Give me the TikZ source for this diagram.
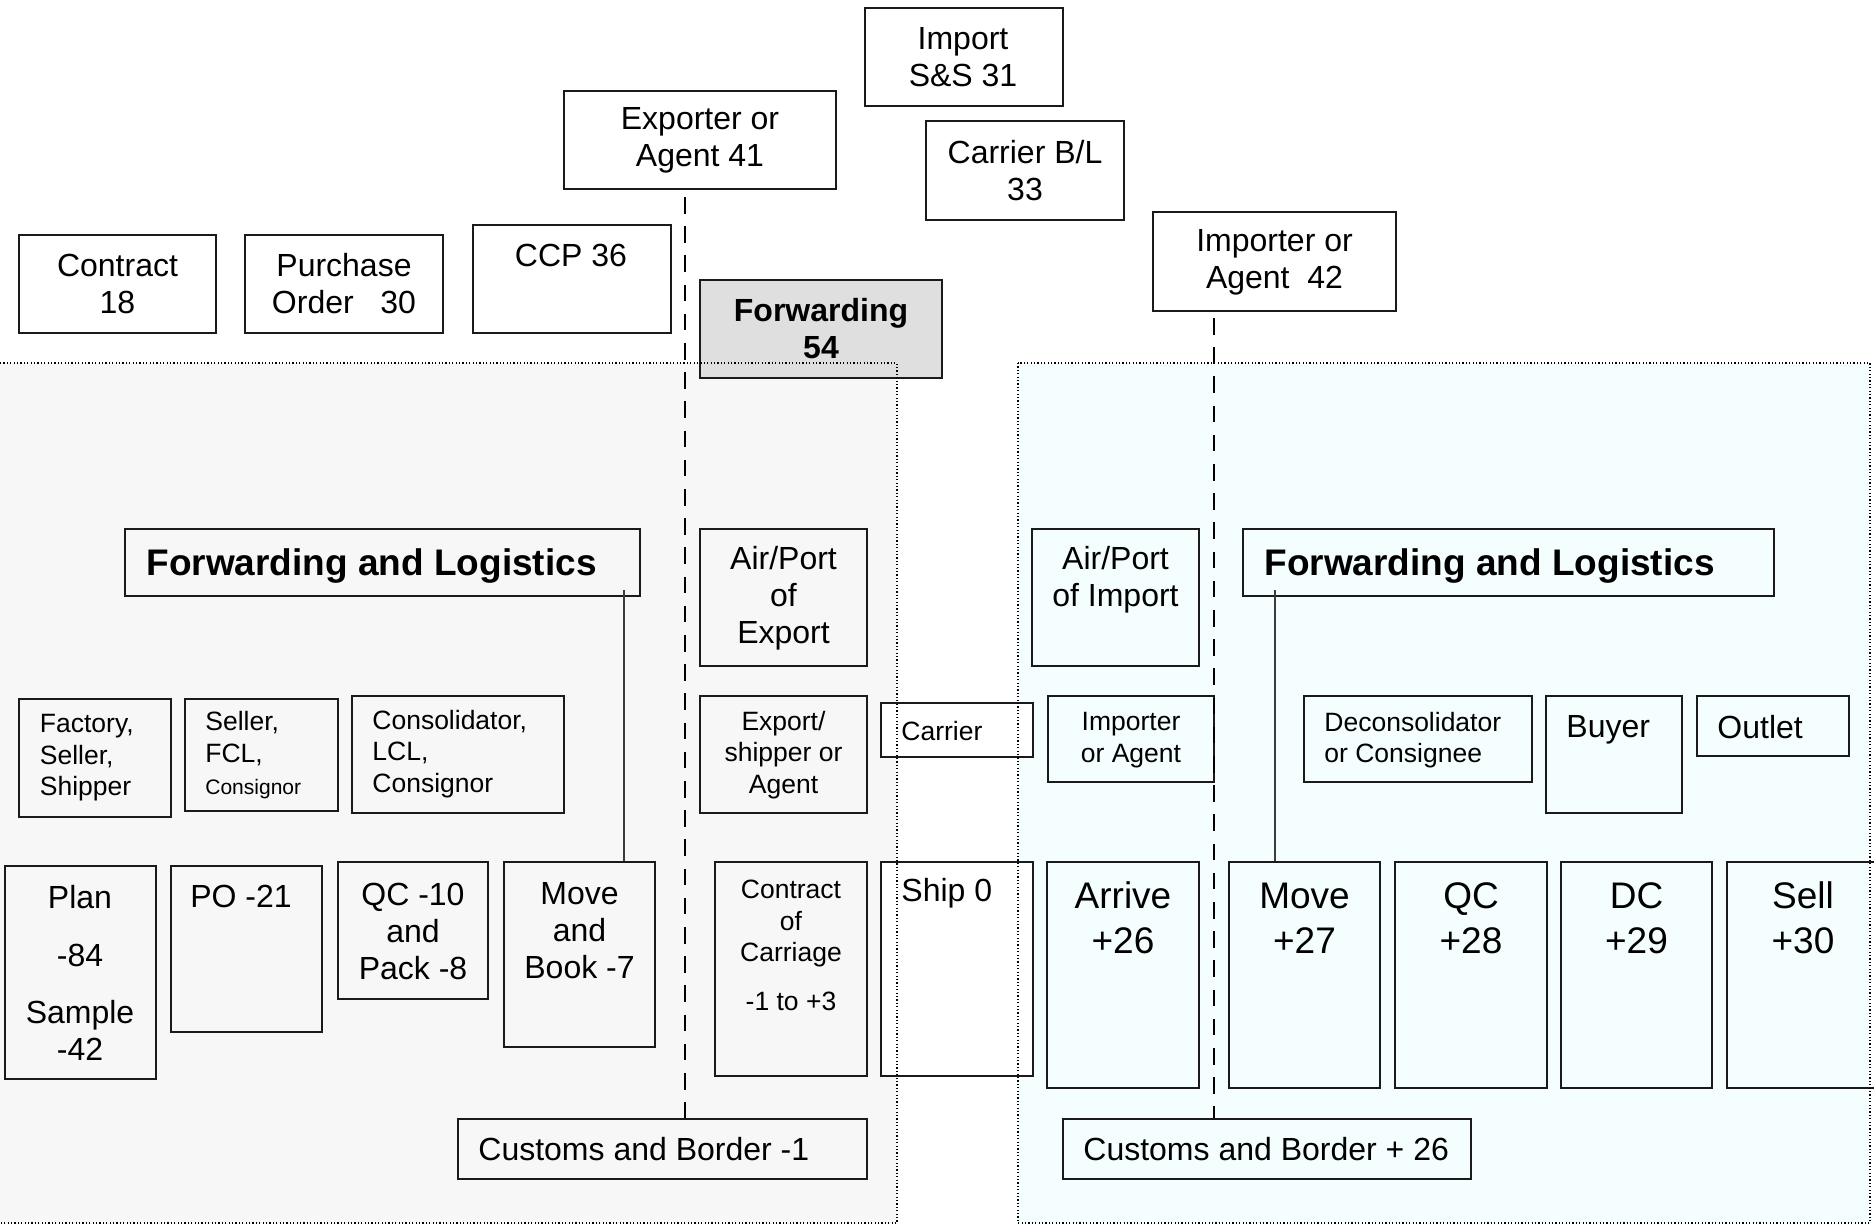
\documentclass[tikz,border=0pt]{standalone}
\usepackage{fontspec}
\setmainfont{Liberation Sans}
\usetikzlibrary{fit}
\definecolor{lgray}{HTML}{F7F7F7}
\definecolor{lcyan}{HTML}{F5FEFE}
\definecolor{fgray}{HTML}{DFDFDF}
\definecolor{edge}{HTML}{1A1A1A}
\newcommand\freg{\fontsize{16}{18.5}\selectfont}
\newcommand\fsml{\fontsize{13.25}{15.8}\selectfont}
\newcommand\flrg{\fontsize{18.5}{22.5}\selectfont}
\newcommand\ftny{\fontsize{10.5}{12}\selectfont}
\begin{document}
\begin{tikzpicture}[x=0.5pt,y=-0.5pt,
  box/.style={draw=edge, line width=1pt, inner sep=0pt},
  txt/.style={inner sep=0pt, align=center, font=\freg},
  ltxt/.style={inner sep=0pt, align=left, anchor=west, font=\freg},
  dotb/.style={draw=black, line width=0.6pt, dash pattern=on 0.6pt off 1.1pt},
  dline/.style={draw=black, line width=1.35pt, dash pattern=on 8.3pt off 6.3pt},
  conn/.style={draw=edge!85, line width=0.7pt}]
\useasboundingbox (0,0) rectangle (1874,1225);
% regions
\fill[lgray] (0,363) rectangle (897,1224);
\fill[lcyan] (1018,363) rectangle (1870,1224);

% top boxes
\node[box, fit={(865,8) (1063,106)}] (imp) {};
\node[txt] (impT) at (963,57) {Import\\S\&S 31};
\node[box, fit={(564,91) (836,189)}] (exp) {};
\node[txt] (expT) at (700,140) {Exporter or\\Agent 41};
\node[box, fit={(926,121) (1124,220)}] (cbl) {};
\node[txt] (cblT) at (1025,171) {Carrier B/L\\33};
\node[box, fit={(19,235) (216,333)}] (con) {};
\node[txt] (conT) at (117.5,284) {Contract\\18};
\node[box, fit={(245,235) (443,333)}] (pur) {};
\node[txt] (purT) at (344,284) {Purchase\\Order~~~30};
\node[box, fit={(473,225) (671,333)}] (ccp) {};
\node[txt] (ccpT) at (571,255) {CCP 36};
\node[box, fill=fgray, fit={(700,280) (942,378)}] (fwd) {};
\node[txt, font=\freg\bfseries] (fwdT) at (821,329) {Forwarding\\54};
\node[box, fit={(1153,212) (1396,311)}] (ima) {};
\node[txt] (imaT) at (1274.5,262) {Importer or\\Agent~~42};

% headers
\node[box, fit={(125,529) (640,596)}] (fl1) {};
\node[ltxt, font=\flrg\bfseries] (fl1T) at (146,566) {Forwarding and Logistics};
\node[box, fit={(1243,529) (1774,596)}] (fl2) {};
\node[ltxt, font=\flrg\bfseries] (fl2T) at (1264,566) {Forwarding and Logistics};
\node[box, fit={(700,529) (867,666)}] (ape) {};
\node[txt] (apeT) at (783.5,598) {Air/Port\\of\\Export};
\node[box, fit={(1032,529) (1199,666)}] (api) {};
\node[txt] (apiT) at (1115.5,580) {Air/Port\\of Import};

% middle row
\node[box, fit={(19,699) (171,817)}] (fac) {};
\node[ltxt, font=\fsml] (facT) at (39.5,758) {Factory,\\Seller,\\Shipper};
\node[box, fit={(185,699) (338,811)}] (sel) {};
\node[ltxt, font=\fsml] (selT) at (205,755) {Seller,\\FCL,\\{\ftny Consignor}};
\node[box, fit={(352,696) (564,813)}] (cns) {};
\node[ltxt, font=\fsml] (cnsT) at (372,754) {Consolidator,\\LCL,\\Consignor};
\node[box, fit={(700,696) (867,813)}] (esa) {};
\node[txt, font=\fsml] (esaT) at (783.5,755) {Export/\\shipper or\\Agent};
\node[box, fill=white, fit={(881,703) (1033,757)}] (car) {};
\node[ltxt, font=\fsml] (carT) at (901,731) {Carrier};
\node[box, fit={(1048,696) (1214,782)}] (iag) {};
\node[txt, font=\fsml] (iagT) at (1131,740) {Importer\\or Agent};
\node[box, fit={(1304,696) (1532,782)}] (dec) {};
\node[ltxt, font=\fsml] (decT) at (1324,740) {Deconsolidator\\or Consignee};
\node[box, fit={(1546,696) (1682,813)}] (buy) {};
\node[ltxt] (buyT) at (1566,730) {Buyer};
\node[box, fit={(1697,696) (1849,756)}] (out) {};
\node[ltxt] (outT) at (1717,727) {Outlet};

% bottom row
\node[box, fit={(5,866) (156,1079)}] (plan) {};
\node[txt] (planT) at (80,972.5) {Plan\\[10.5pt]-84\\[10pt]Sample\\-42};
\node[box, fit={(171,866) (322,1032)}] (po) {};
\node[txt] (poT) at (241,896) {PO -21};
\node[box, fit={(338,862) (488,999)}] (qc) {};
\node[txt] (qcT) at (413,931) {QC -10\\and\\Pack -8};
\node[box, fit={(504,862) (655,1047)}] (mv1) {};
\node[txt] (mv1T) at (579.5,931) {Move\\and\\Book -7};
\node[box, fit={(715,862) (867,1076)}] (coc) {};
\node[txt, font=\fsml] (cocT) at (791,945.5) {Contract\\of\\Carriage\\[8.5pt]-1 to +3};
\node[box, fill=white, fit={(881,862) (1033,1076)}] (ship) {};
\node[ltxt] (shipT) at (901,893) {Ship 0};
\node[box, fit={(1047,862) (1199,1088)}] (arr) {};
\node[txt, font=\flrg] (arrT) at (1123,918) {Arrive\\+26};
\node[box, fit={(1229,862) (1380,1088)}] (mv2) {};
\node[txt, font=\flrg] (mv2T) at (1304.5,918) {Move\\+27};
\node[box, fit={(1395,862) (1547,1088)}] (qc2) {};
\node[txt, font=\flrg] (qc2T) at (1471,918) {QC\\+28};
\node[box, fit={(1561,862) (1712,1088)}] (dc) {};
\node[txt, font=\flrg] (dcT) at (1636.5,918) {DC\\+29};
\node[box, fit={(1727,862) (1878,1088)}] (sell) {};
\node[txt, font=\flrg] (sellT) at (1803,918) {Sell\\+30};
\node[box, fit={(458,1119) (867,1179)}] (cb1) {};
\node[ltxt] (cb1T) at (478,1149) {Customs and Border -1};
\node[box, fit={(1063,1119) (1471,1179)}] (cb2) {};
\node[ltxt] (cb2T) at (1083,1149) {Customs and Border + 26};

% connectors
\coordinate (d1) at (685,197);
\coordinate (d2) at (1214,318);
\draw[dline] (d1) -- (d1 |- cb1.north);
\draw[dline] (d2) -- (d2 |- cb2.north);
\coordinate (c1) at (624,590);
\coordinate (c2) at (1275,590);
\draw[conn] (c1) -- (c1 |- mv1.north);
\draw[conn] (c2) -- (c2 |- mv2.north);

% region borders
\draw[dotb] (0,363) -- (897,363) -- (897,1223) -- (0,1223);
\draw[dotb] (1018,363) rectangle (1870,1223);
\end{tikzpicture}
\end{document}
